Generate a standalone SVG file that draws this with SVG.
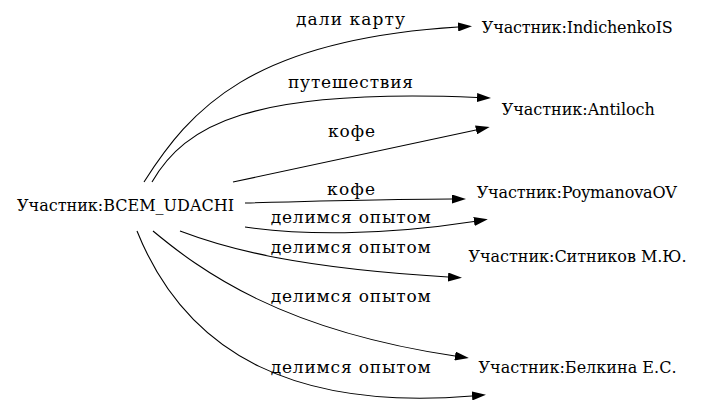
<svg xmlns="http://www.w3.org/2000/svg" width="705" height="408" viewBox="0 0 705 408">
<style>
text{font-family:"DejaVu Serif","Liberation Serif",serif;font-size:16px;fill:#000;text-anchor:middle}
#edge-labels text{font-size:17px}
.e path{fill:none;stroke:#000;stroke-width:1.1;marker-end:url(#ah)}
</style>
<defs>
<marker id="ah" markerUnits="userSpaceOnUse" viewBox="0 0 14 9" refX="0" refY="4.5" markerWidth="14" markerHeight="9" orient="auto">
<path d="M0,0 L14,4.5 L0,9 z" fill="#000"/>
</marker>
</defs>
<rect width="705" height="408" fill="#fff"/>
<g id="edges" class="e">
<path d="M144,182 C190,110 250,40 458,27"/>
<path d="M152,182 C185,125 250,88 477,97.5"/>
<path d="M233,182 L476,130"/>
<path d="M245,203 C320,201 400,199 452,199"/>
<path d="M245,227 C300,235 380,236 474,221.5"/>
<path d="M180,231 C230,250 300,268 448,277"/>
<path d="M153,231 C200,270 280,330 455,356"/>
<path d="M137,231 C188,358 300,410 472,396"/>
</g>
<g id="edge-labels">
<text x="350.5" y="25" textLength="109">дали карту</text>
<text x="350.5" y="88" textLength="125">путешествия</text>
<text x="351.5" y="137" textLength="47">кофе</text>
<text x="351" y="195" textLength="48">кофе</text>
<text x="350.7" y="223" textLength="160">делимся опытом</text>
<text x="350.7" y="253" textLength="160">делимся опытом</text>
<text x="350.7" y="302" textLength="160">делимся опытом</text>
<text x="350.7" y="373" textLength="160">делимся опытом</text>
</g>
<g id="node-bcem"><text x="125.5" y="210.5" textLength="217">Участник:BCEM_UDACHI</text></g>
<g id="node-indichenko"><text x="577.3" y="33" textLength="191">Участник:IndichenkoIS</text></g>
<g id="node-antiloch"><text x="578.3" y="115" textLength="153">Участник:Antiloch</text></g>
<g id="node-poymanova"><text x="576.7" y="198" textLength="200">Участник:PoymanovaOV</text></g>
<g id="node-sitnikov"><text x="577.5" y="261.5" textLength="218">Участник:Ситников М.Ю.</text></g>
<g id="node-belkina"><text x="577.5" y="373" textLength="198">Участник:Белкина Е.С.</text></g>
</svg>
